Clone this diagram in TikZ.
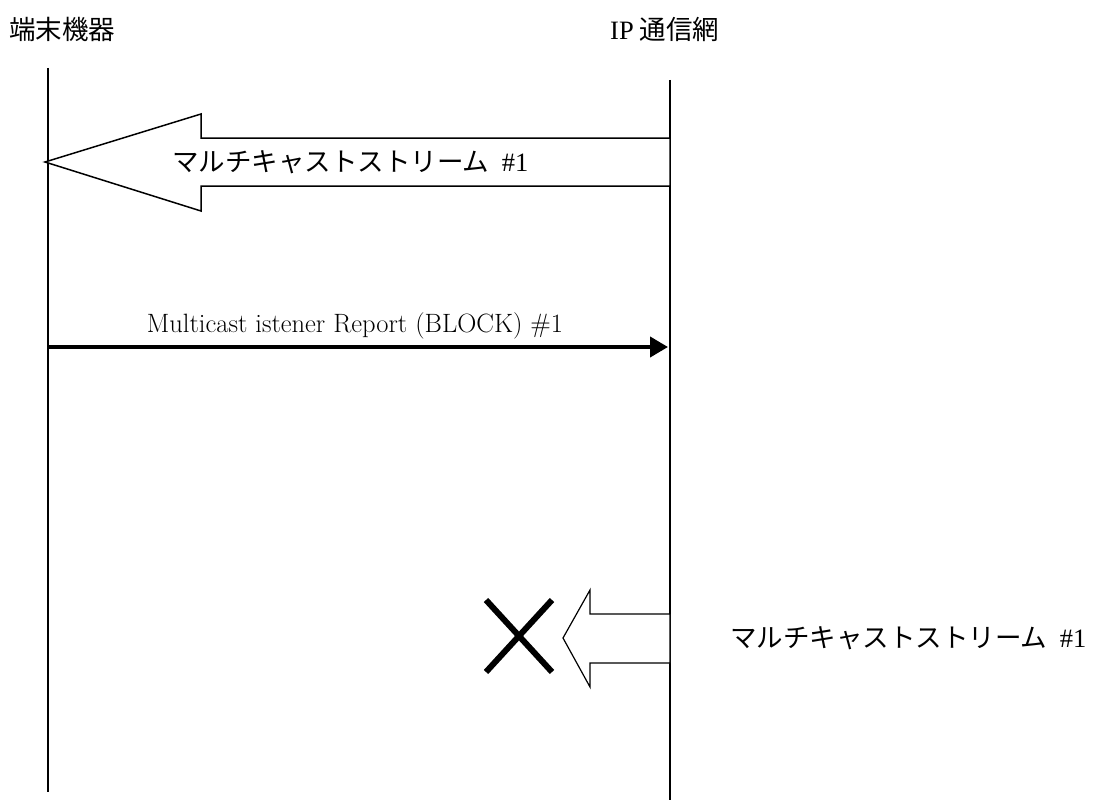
\documentclass[tikz,border=0pt]{standalone}
\usepackage{fontspec}
\newfontfamily\cjk{Noto Sans CJK JP}
\newfontfamily\tms{Liberation Serif}
\usetikzlibrary{arrows.meta}
\begin{document}
\begin{tikzpicture}[x=1pt,y=-1pt,
  lifeline/.style={line width=1.5pt},
  fatarrow/.style={draw, line width=1.5pt, fill=white, line join=miter},
  msg/.style={line width=4pt, -{Triangle[length=18pt,width=20pt]}},
  jlabel/.style={inner sep=0pt, font=\cjk\fontsize{26.5}{30}\selectfont},
  elabel/.style={inner sep=0pt, font=\fontsize{26.5}{30}\selectfont},
  cross/.style={line width=6pt}]
\useasboundingbox (0,0) rectangle (1095,800);
% headers
\node[jlabel, anchor=west] (hdrA) at (9,29) {端末機器};
\node[jlabel, anchor=west] (hdrB) at (610,29) {{\tms IP}\hspace{6pt}通信網};
% lifelines
\coordinate (A1) at (48,68);
\coordinate (A2) at (48,792);
\coordinate (B1) at (670,80);
\coordinate (B2) at (670,800);
\draw[lifeline] (A1) -- (A2);
\draw[lifeline] (B1) -- (B2);
% big stream arrow
\draw[fatarrow] (670,138) -- (201,138) -- (201,114) -- (45,162) -- (201,211) -- (201,186) -- (670,186) -- cycle;
\node[jlabel, anchor=west] (s1) at (172,162) {マルチキャストストリーム {\tms\ \#1}};
% message
\coordinate (m1) at (48,347);
\coordinate (m2) at (668,347);
\draw[msg] (m1) -- (m2);
\node[elabel, anchor=base] (m1lab) at (355,332) {Multicast istener Report (BLOCK) \#1};
% blocked stream
\draw[fatarrow, line width=1.2pt] (670,614) -- (590,614) -- (590,590) -- (563,638) -- (590,687) -- (590,663) -- (670,663) -- cycle;
\draw[cross] (486,600) -- (552,672);
\draw[cross] (552,600) -- (486,672);
\node[jlabel, anchor=west] (s2) at (730,638) {マルチキャストストリーム {\tms\ \#1}};
\end{tikzpicture}
\end{document}
